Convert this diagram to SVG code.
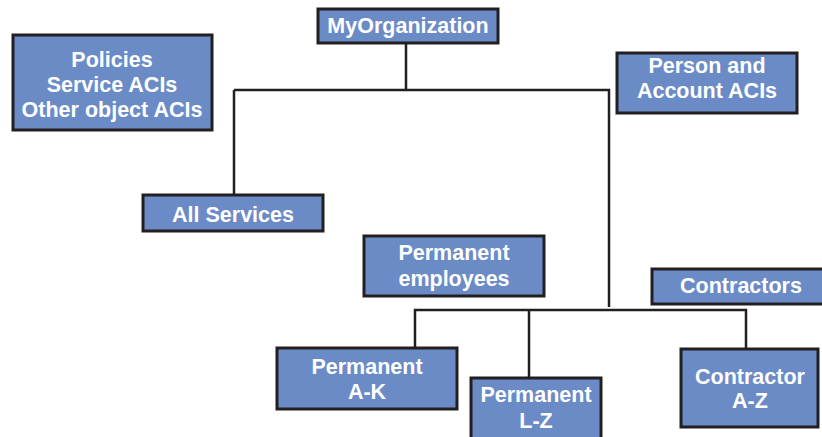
<svg xmlns="http://www.w3.org/2000/svg" width="822" height="437" viewBox="0 0 822 437">
<style>
.box{fill:#6b8bc7;stroke:#231f20;stroke-width:3}
.t{font-family:"Liberation Sans",Arial,sans-serif;font-weight:bold;font-size:21.5px;fill:#fff;text-anchor:middle}
.c{fill:none;stroke:#231f20;stroke-width:2.5}
</style>
<rect width="822" height="437" fill="#fff"/>
<g id="connectors">
<path class="c" d="M406,43 V90 M234,90 H609 V307 M234,90 V195"/>
<path class="c" d="M415,348 V310 H746 V349 M529,310 V378"/>
</g>
<g id="myorg"><rect class="box" x="318" y="9" width="180" height="34"/><text class="t" x="408" y="33">MyOrganization</text></g>
<g id="policies"><rect class="box" x="13" y="35" width="199" height="95"/><text class="t" x="112" y="67">Policies</text><text class="t" x="112" y="92">Service ACIs</text><text class="t" x="112" y="117">Other object ACIs</text></g>
<g id="person"><rect class="box" x="617" y="53" width="180" height="60"/><text class="t" x="707" y="73">Person and</text><text class="t" x="707" y="98">Account ACIs</text></g>
<g id="allservices"><rect class="box" x="143" y="195" width="180" height="36"/><text class="t" x="233" y="222">All Services</text></g>
<g id="permemp"><rect class="box" x="364" y="236" width="180" height="60"/><text class="t" x="454" y="260">Permanent</text><text class="t" x="454" y="286">employees</text></g>
<g id="contractors"><rect class="box" x="652" y="269" width="180" height="35"/><text class="t" x="741" y="293">Contractors</text></g>
<g id="permak"><rect class="box" x="277" y="348" width="180" height="61"/><text class="t" x="367" y="374">Permanent</text><text class="t" x="367" y="399">A-K</text></g>
<g id="permlz"><rect class="box" x="471" y="378" width="130" height="70"/><text class="t" x="536" y="402">Permanent</text><text class="t" x="536" y="428">L-Z</text></g>
<g id="contraz"><rect class="box" x="681" y="349" width="137" height="78"/><text class="t" x="750" y="384">Contractor</text><text class="t" x="750" y="408">A-Z</text></g>
</svg>
